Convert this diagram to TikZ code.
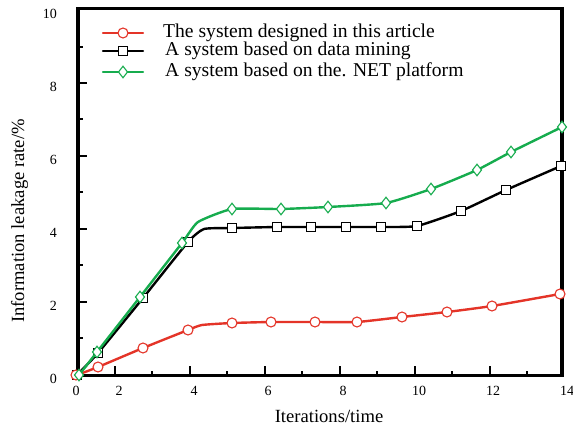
\documentclass[tikz,border=0pt]{standalone}
\usepackage{fontspec}
\setmainfont{Liberation Serif}
\usetikzlibrary{shapes.geometric}
\definecolor{cred}{RGB}{228,52,40}
\definecolor{cgreen}{RGB}{22,172,78}
\begin{document}
\begin{tikzpicture}[x=1pt,y=-1pt,
  axisline/.style={line width=3.4pt, line cap=rect},
  tickmark/.style={line width=2.6pt},
  dataline/.style={line width=2.4pt, line join=round, line cap=round},
  circmark/.style={circle, draw=cred, fill=white, line width=1.1pt, minimum size=10pt, inner sep=0pt},
  sqmark/.style={rectangle, draw=black, fill=white, line width=1.1pt, minimum size=8.5pt, inner sep=0pt},
  diamark/.style={diamond, draw=cgreen, fill=white, line width=1.1pt, minimum width=9.5pt, minimum height=12pt, inner sep=0pt},
  ticklabel/.style={font=\fontsize{14}{16}\selectfont, inner sep=0pt},
  legtext/.style={font=\fontsize{19.6}{22}\selectfont, inner sep=0pt, anchor=base west},
  axlabel/.style={font=\fontsize{18.6}{21}\selectfont, inner sep=0pt, anchor=base}]
\useasboundingbox (0,0) rectangle (573,425);

% frame
\draw[axisline] (78,8.5) rectangle (562,375.5);
% x ticks
\foreach \x in {115,190,265,340,415,490} \draw[tickmark] (\x,375) -- (\x,366);
\foreach \x in {152,227,302,377,452,527} \draw[tickmark] (\x,375) -- (\x,370.5);
% y ticks
\foreach \y in {302,229,156,83} \draw[tickmark] (78,\y) -- (87,\y);
\foreach \y in {338,265,192,119,47} \draw[tickmark] (78,\y) -- (82.5,\y);

% x tick labels
\foreach \x/\t in {76/0,119/2,194/4,268/6,343/8,419/10,493/12,567/14}
  \node[ticklabel, anchor=base] (xl\t) at (\x,395) {\t};
% y tick labels
\foreach \y/\t in {375/0,302/2,229/4,156/6,83/8,10/10}
  \node[ticklabel, anchor=east] (yl\t) at (57,\y+4) {\t};

% axis labels
\node[axlabel] (xlab) at (329,422) {Iterations/time};
\node[axlabel, rotate=90] (ylab) at (24,221) {Information leakage rate/\%};

% black series
\draw[black, dataline] plot[smooth, tension=0.3] coordinates {(77,375) (98,353) (143,298) (188,242) (204,229) (232,228) (277,227) (311,227) (346,227) (381,227) (417,226) (461,211) (506,190) (561,166)};
\foreach \p [count=\i] in {(77,375),(98,353),(143,298),(188,242),(232,228),(277,227),(311,227),(346,227),(381,227),(417,226),(461,211),(506,190),(561,166)}
  \node[sqmark] (b\i) at \p {};

% red series
\draw[cred, dataline] plot[smooth, tension=0.3] coordinates {(77,375) (98,367) (143,348) (188,330) (202,325) (232,323) (271,322) (315,322) (357,322) (402,317) (447,312) (492,306) (560,294)};
\foreach \p [count=\i] in {(76,375),(98,367),(143,348),(188,330),(232,323),(271,322),(315,322),(357,322),(402,317),(447,312),(492,306),(560,294)}
  \node[circmark] (r\i) at \p {};

% green series
\draw[cgreen, dataline] plot[smooth, tension=0.3] coordinates {(79,375) (97,352) (140,297) (182,243) (198,222) (232,209) (281,209) (328,207) (386,203) (431,189) (477,170) (511,152) (562,127)};
\foreach \p [count=\i] in {(79,375),(97,352),(140,297),(182,243),(232,209),(281,209),(328,207),(386,203),(431,189),(477,170),(511,152),(562,127)}
  \node[diamark] (g\i) at \p {};

% legend
\coordinate (lr1) at (103,33); \coordinate (lr2) at (143,33);
\draw[cred, dataline] (lr1) -- (lr2);
\node[circmark] (lrm) at (123,33) {};
\node[legtext] (lrt) at (163,37.5) {The system designed in this article};

\coordinate (lb1) at (103,51); \coordinate (lb2) at (143,51);
\draw[black, dataline] (lb1) -- (lb2);
\node[sqmark] (lbm) at (123,51) {};
\node[legtext] (lbt) at (165,56) {A system based on data mining};

\coordinate (lg1) at (103,72); \coordinate (lg2) at (143,72);
\draw[cgreen, dataline] (lg1) -- (lg2);
\node[diamark] (lgm) at (123,72) {};
\node[legtext] (lgt) at (165,76.5) {A system based on the. NET platform};
\end{tikzpicture}
\end{document}
